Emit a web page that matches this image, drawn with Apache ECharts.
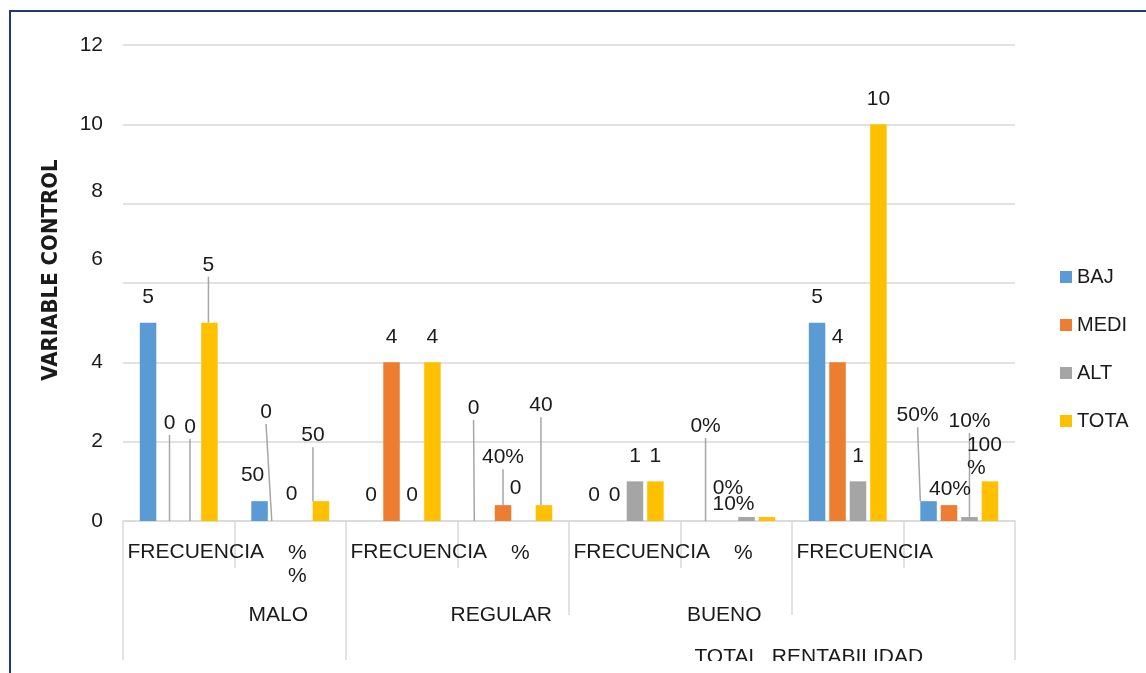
<!DOCTYPE html>
<html>

<head>
    <meta charset="utf-8" />
    <title>Variable control</title>
    <script src="https://cdn.jsdelivr.net/npm/echarts@6.0.0/dist/echarts.min.js"></script>
    <style>
        html, body { margin: 0; background: #fff; overflow: hidden; }
        #frame {
            position: absolute; left: 9px; top: 10px; width: 1137px; height: 663px;
            box-sizing: border-box; border-top: 2px solid #1f3a73; border-left: 2px solid #1f3a73;
        }
        #main { position: absolute; left: 0; top: 0; width: 1146px; height: 661px; }
    </style>
</head>

<body>
    <div id="frame"></div>
    <div id="main"></div>
    <script type="text/javascript">
        // level 1 / 2 / 3 category labels
        var categories = ['FRECUENCIA', '%\n%', 'FRECUENCIA', '%', 'FRECUENCIA', '%', 'FRECUENCIA', ''];
        var groups = ['MALO', 'REGULAR', 'BUENO', 'TOTAL  RENTABILIDAD'];
        var seriesNames = ['BAJO', 'MEDIO', 'ALTO', 'TOTAL'];

        // frecuencia and share (%) per level
        var bajo = [5, 0.5, 0, 0, 0, 0, 5, 0.5];
        var medio = [0, 0, 4, 0.4, 0, 0, 4, 0.4];
        var alto = [0, 0, 0, 0, 1, 0.1, 1, 0.1];
        var total = [5, 0.5, 4, 0.4, 1, 0.1, 10, 1];

        var colors = ['#5b9bd5', '#ed7d31', '#a5a5a5', '#ffc000'];
        var font = "'Liberation Sans', Arial, sans-serif";
        var ink = '#1a1a1a';
        var grey = '#d9d9d9';

        // percent labels that are cut to the number, wrapped, or hidden (key: series-index)
        var cutPct = ['0-1', '1-1', '2-1', '3-1', '0-3', '2-3', '3-3'];
        var wrapPct = ['3-7'];
        var hidePct = ['3-5'];
        // moved labels: [dx, dy]
        var labelShift = {
            '1-0': [1, -72], '2-0': [1, -68], '3-0': [-1, -32],
            '0-1': [-7, 0], '1-1': [-14, -83], '2-1': [-9, -1], '3-1': [-8, -40],
            '0-3': [-9, -87], '1-3': [0, -22], '2-3': [-8, -7], '3-3': [-3, -74],
            '0-5': [0, -69], '1-5': [2, -7], '2-5': [-13, 13],
            '0-7': [-11, -60], '1-7': [1, 10], '2-7': [0, -70], '3-7': [-23, 12]
        };

        var level2 = categories.map(function (c, i) {
            return (i % 2 === 1 && i < 6) ? groups[(i - 1) / 2] : '';
        });
        var level3 = categories.map(function (c, i) {
            return i === 6 ? groups[3] : '';
        });

        function labelText(p) {
            if (p.dataIndex % 2 === 0) return p.value;
            var key = p.seriesIndex + '-' + p.dataIndex;
            var n = Math.round(p.value * 100);
            if (hidePct.indexOf(key) >= 0) return '';
            if (cutPct.indexOf(key) >= 0) return String(n);
            if (wrapPct.indexOf(key) >= 0) return n + '\n%';
            return n + '%';
        }

        function makeData(vals, s) {
            return vals.map(function (v, i) {
                var key = s + '-' + i;
                var sh = labelShift[key];
                var item = { value: v, labelLine: { show: !!sh && Math.abs(sh[1]) > 15 && wrapPct.indexOf(key) < 0 } };
                if (wrapPct.indexOf(key) >= 0) item.label = { align: 'left' };
                return item;
            });
        }

        var tickStyle = { color: grey, width: 1.5 };

        var myChart = echarts.init(document.getElementById('main'));
        myChart.setOption({
            animation: false,
            backgroundColor: 'transparent',
            textStyle: { fontFamily: font },
            grid: { left: 123, right: 131, top: 45, bottom: 140, outerBoundsMode: 'none' },
            legend: {
                orient: 'vertical',
                left: 1055,
                top: 262,
                itemWidth: 12,
                itemHeight: 12,
                itemGap: 28,
                icon: 'rect',
                data: seriesNames,
                formatter: function (name) { return name.slice(0, -1); },
                textStyle: { fontSize: 20, color: ink, fontFamily: font, lineHeight: 20 }
            },
            xAxis: [
                {
                    type: 'category',
                    data: categories,
                    axisLine: { show: true, lineStyle: tickStyle },
                    axisTick: { show: true, interval: 0, length: 47, lineStyle: tickStyle },
                    axisLabel: {
                        interval: 0,
                        margin: 21,
                        color: ink,
                        fontSize: 21,
                        formatter: function (v) {
                            if (!v) return '';
                            return v.split('\n').map(function (t) {
                                return t === '%' ? '{p|%}' : '{f|' + t + '}';
                            }).join('\n');
                        },
                        rich: {
                            f: { fontSize: 21, color: ink, padding: [0, 0, 0, 34] },
                            p: { fontSize: 21, color: ink, lineHeight: 23, padding: [0, 0, 0, 14] }
                        }
                    }
                },
                {
                    type: 'category',
                    data: level2,
                    position: 'bottom',
                    axisLine: { show: false },
                    axisTick: {
                        show: true,
                        interval: function (i) { return i % 2 === 0; },
                        length: 94,
                        lineStyle: tickStyle
                    },
                    axisLabel: { interval: 0, margin: 84, color: ink, fontSize: 21, padding: [0, 24, 0, 0] }
                },
                {
                    type: 'category',
                    data: level3,
                    position: 'bottom',
                    axisLine: { show: false },
                    axisTick: {
                        show: true,
                        interval: function (i) { return i === 0 || i === 2; },
                        length: 139,
                        lineStyle: tickStyle
                    },
                    axisLabel: { interval: 0, margin: 126, color: ink, fontSize: 21, padding: [0, 78, 0, 0] }
                }
            ],
            yAxis: {
                type: 'value',
                min: 0,
                max: 12,
                interval: 2,
                name: 'VARIABLE CONTROL',
                nameLocation: 'middle',
                nameGap: 61,
                nameTextStyle: {
                    fontSize: 22,
                    fontWeight: 'bold',
                    color: ink,
                    fontFamily: "'Liberation Sans Narrow', 'DejaVu Sans Condensed', sans-serif",
                    padding: [0, 0, 0, 26]
                },
                axisLine: { show: false },
                axisTick: { show: false },
                splitLine: { lineStyle: { color: grey, width: 1.5 } },
                axisLabel: {
                    margin: 20,
                    fontSize: 21,
                    color: ink,
                    formatter: function (v) {
                        if (v === 8) return '{u8|8}';
                        if (v === 6) return '{u6|6}';
                        return v;
                    },
                    rich: {
                        u8: { fontSize: 21, color: ink, padding: [0, 0, 24, 0] },
                        u6: { fontSize: 21, color: ink, padding: [0, 0, 48, 0] }
                    }
                }
            },
            series: [bajo, medio, alto, total].map(function (vals, s) {
                return {
                    name: seriesNames[s],
                    type: 'bar',
                    barWidth: 16.5,
                    barGap: '24%',
                    itemStyle: { color: colors[s] },
                    label: {
                        show: true,
                        position: 'top',
                        distance: 14,
                        fontSize: 21,
                        lineHeight: 23,
                        color: ink,
                        formatter: labelText
                    },
                    labelLine: { show: false, lineStyle: { color: '#a6a6a6', width: 1.5 } },
                    labelLayout: function (p) {
                        var sh = labelShift[p.seriesIndex + '-' + p.dataIndex];
                        return sh ? { dx: sh[0], dy: sh[1] } : {};
                    },
                    data: makeData(vals, s)
                };
            })
        });
    </script>
</body>

</html>
